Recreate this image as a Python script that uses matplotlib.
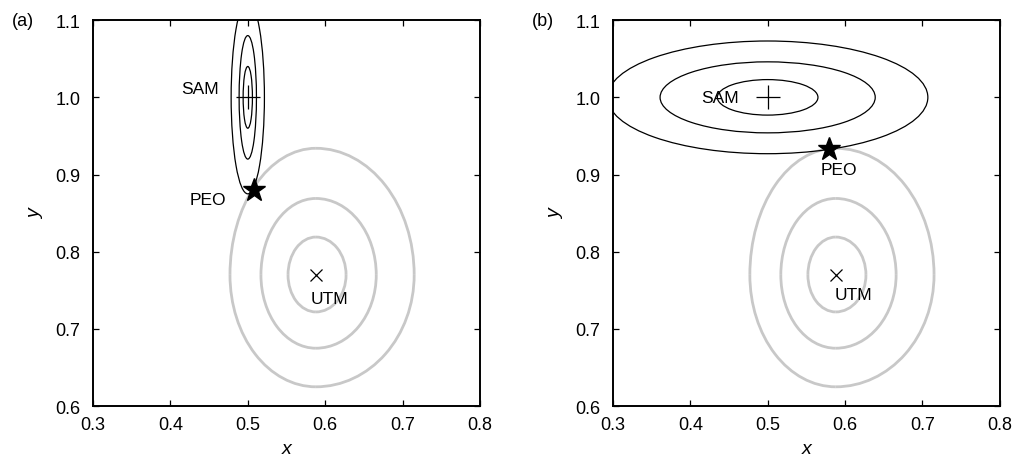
import numpy as np
import matplotlib
matplotlib.use("Agg")
import matplotlib.pyplot as plt
from matplotlib.patches import Arc, Ellipse

plt.rcParams["font.family"] = ["Liberation Sans", "DejaVu Sans"]

# UTM (utility) contours, grey, same in both panels
utm = (0.588, 0.770)
grey_left = [0.477, 0.517, 0.552]
grey_right = [0.715, 0.666, 0.627]
grey_top = [0.934, 0.869, 0.819]
grey_bottom = [0.625, 0.675, 0.722]

# SAM contours (black ellipses): half widths / heights per panel
sam = (0.500, 1.000)
sam_a_halfw = [0.0215, 0.0112, 0.0060]
sam_a_halfh = [0.125, 0.080, 0.040]
sam_b_halfw = [0.207, 0.139, 0.065]
sam_b_halfh = [0.073, 0.046, 0.023]

# PEO points
peo_a = (0.508, 0.880)
peo_b = (0.579, 0.933)

# label positions
labels_a = {"SAM": (0.462, 1.012, "right"), "PEO": (0.472, 0.868, "right"), "UTM": (0.581, 0.740, "left")}
labels_b = {"SAM": (0.414, 1.000, "left"), "PEO": (0.592, 0.906, "center"), "UTM": (0.587, 0.744, "left")}

xticks = [0.3, 0.4, 0.5, 0.6, 0.7, 0.8]
yticks = [0.6, 0.7, 0.8, 0.9, 1.0, 1.1]

fig = plt.figure(figsize=(10.13, 4.6), dpi=100)
ax_a = fig.add_axes([0.0918, 0.115, 0.382, 0.839])
ax_b = fig.add_axes([0.605, 0.115, 0.382, 0.839])


def draw_utm(ax):
    cx, cy = utm
    for l, r, t, b in zip(grey_left, grey_right, grey_top, grey_bottom):
        # four quarter arcs give the egg shape
        quads = [(r - cx, t - cy, 0, 90), (cx - l, t - cy, 90, 180),
                 (cx - l, cy - b, 180, 270), (r - cx, cy - b, 270, 360)]
        for hw, hh, t1, t2 in quads:
            ax.add_patch(Arc((cx, cy), 2 * hw, 2 * hh, theta1=t1, theta2=t2,
                             color="#c8c8c8", lw=2.0, zorder=2))
    ax.plot(cx, cy, marker="x", ms=9, mew=0.9, color="black", zorder=4)


def draw_sam(ax, hws, hhs):
    for hw, hh in zip(hws, hhs):
        ax.add_patch(Ellipse(sam, 2 * hw, 2 * hh, fill=False, ec="black", lw=0.9, zorder=3))
    ax.plot(sam[0], sam[1], marker="+", ms=17, mew=0.9, color="black", zorder=4)


def style(ax, tag):
    ax.set_xlim(0.3, 0.8)
    ax.set_ylim(0.6, 1.1)
    ax.set_xticks(xticks)
    ax.set_yticks(yticks)
    ax.set_xticklabels(["%.1f" % v for v in xticks])
    ax.set_yticklabels(["%.1f" % v for v in yticks])
    ax.tick_params(direction="in", top=True, right=True, length=4, width=0.9,
                   labelsize=13, pad=7)
    ax.tick_params(axis="y", pad=9)
    for s in ax.spines.values():
        s.set_linewidth(1.4)
    ax.set_xlabel("x", fontsize=14, style="italic", labelpad=5)
    ax.set_ylabel("y", fontsize=14, style="italic", labelpad=8)
    ax.text(-0.18, 1.0, tag, transform=ax.transAxes, fontsize=13, va="center", ha="center")


for ax, hws, hhs, peo, labs, tag in [(ax_a, sam_a_halfw, sam_a_halfh, peo_a, labels_a, "(a)"),
                                     (ax_b, sam_b_halfw, sam_b_halfh, peo_b, labels_b, "(b)")]:
    draw_utm(ax)
    draw_sam(ax, hws, hhs)
    ax.plot(peo[0], peo[1], marker="*", ms=17, color="black", zorder=5)
    for name, (tx, ty, ha) in labs.items():
        ax.text(tx, ty, name, fontsize=12.5, ha=ha, va="center", zorder=6)
    style(ax, tag)

fig.savefig("out.png", dpi=100)
